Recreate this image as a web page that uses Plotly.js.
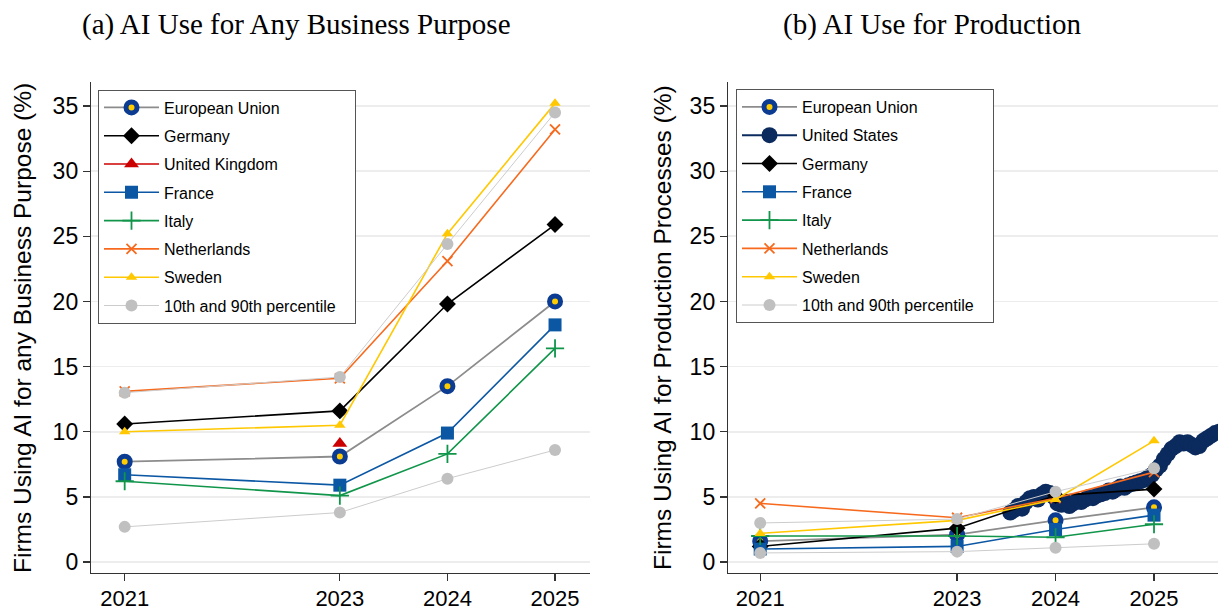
<!DOCTYPE html>
<html><head><meta charset="utf-8">
<script src="https://cdn.plot.ly/plotly-3.0.1.min.js"></script>
<style>html,body{margin:0;padding:0;background:#fff}</style>
</head><body><div id="chart" style="width:1218px;height:612px"></div>
<script>
// ---------- data ----------
const years = [2021, 2023, 2024, 2025];
const tickVals = [2021, 2023, 2024, 2025];
const tickText = ['2021', '2023', '2024', '2025'];
const yTickVals = [0, 5, 10, 15, 20, 25, 30, 35];

// Panel (a): AI use for any business purpose (%)
const euA  = [7.7, 8.1, 13.5, 20.0];
const deA  = [10.6, 11.6, 19.8, 25.9];
const ukYearA = [2023];
const ukA  = [9.1];
const frA  = [6.7, 5.9, 9.9, 18.2];
const itA  = [6.2, 5.1, 8.3, 16.4];
const nlA  = [13.1, 14.1, 23.1, 33.2];
const seA  = [10.0, 10.5, 25.2, 35.2];
const p90A = [13.0, 14.2, 24.4, 34.5];
const p10A = [2.7, 3.8, 6.4, 8.6];

// Panel (b): AI use for production (%)
const euB  = [1.6, 2.1, 3.2, 4.2];
const deB  = [1.2, 2.6, 5.1, 5.6];
const frB  = [1.0, 1.2, 2.5, 3.6];
const itB  = [2.0, 2.0, 1.9, 2.9];
const nlB  = [4.5, 3.4, 4.9, 6.9];
const seB  = [2.2, 3.2, 4.8, 9.3];
const p90B = [3.0, 3.3, 5.4, 7.2];
const p10B = [0.7, 0.8, 1.1, 1.4];

// United States (biweekly survey)
const usX = [2023.54, 2023.58, 2023.62, 2023.66, 2023.70, 2023.74, 2023.78, 2023.82, 2023.86, 2023.90,
             2023.94, 2023.98, 2024.02, 2024.06, 2024.10, 2024.14, 2024.18, 2024.22, 2024.26, 2024.30,
             2024.34, 2024.38, 2024.42, 2024.46, 2024.50, 2024.54, 2024.58, 2024.62, 2024.66, 2024.70,
             2024.74, 2024.78, 2024.82, 2024.86, 2024.90, 2024.94, 2024.98, 2025.02, 2025.06, 2025.10,
             2025.14, 2025.18, 2025.22, 2025.26, 2025.30, 2025.34, 2025.38, 2025.42, 2025.46, 2025.50,
             2025.54, 2025.58, 2025.62, 2025.66];
const usY = [3.8, 4.0, 4.3, 4.1, 4.6, 4.9, 5.0, 4.8, 5.2, 5.4,
             5.3, 5.0, 4.5, 4.4, 4.6, 4.3, 4.5, 4.7, 4.6, 4.8,
             5.0, 4.9, 5.1, 5.2, 5.3, 5.5, 5.4, 5.6, 5.8, 5.7,
             5.9, 6.0, 6.1, 6.2, 6.3, 6.5, 6.7, 7.1, 7.4, 7.9,
             8.3, 8.7, 8.9, 9.2, 9.1, 9.2, 9.0, 8.8, 8.9, 9.3,
             9.5, 9.7, 9.9, 10.0];

// ---------- styles ----------
const C = {
  euRing: '#0b3c92', euFill: '#ffcc00', euLine: '#8c8c8c',
  de: '#000000', uk: '#cc0000', fr: '#0b57a4', it: '#10954a',
  nl: '#f76a1e', se: '#ffc800', pct: '#c0c0c0', pctLine: '#cccccc', us: '#0b2a5e'
};
const FONT = 'Liberation Sans, Arial, sans-serif';
const PCT_NAME = '10th and 90th percentile\u00a0\u00a0\u00a0';

function mk(name, x, y, xa, ya, leg, rank, opts) {
  return Object.assign({
    type: 'scatter', mode: 'lines+markers', name: name, x: x, y: y,
    xaxis: xa, yaxis: ya, legend: leg, legendgroup: leg + name, legendrank: rank
  }, opts);
}
const euStyle = {line: {color: C.euLine, width: 1.8}, marker: {symbol: 'circle', size: 11, color: C.euFill, line: {color: C.euRing, width: 5}}};
const deStyle = {line: {color: C.de, width: 1.6}, marker: {symbol: 'diamond', size: 13, color: C.de}};
const ukStyle = {line: {color: C.uk, width: 1.6}, marker: {symbol: 'triangle-up', size: 13, color: C.uk}};
const frStyle = {line: {color: C.fr, width: 1.6}, marker: {symbol: 'square', size: 13, color: C.fr}};
const itStyle = {line: {color: C.it, width: 1.6}, marker: {symbol: 'cross-thin-open', size: 13, color: C.it, line: {color: C.it, width: 1.8}}};
const nlStyle = {line: {color: C.nl, width: 1.6}, marker: {symbol: 'x-thin-open', size: 10, color: C.nl, line: {color: C.nl, width: 1.8}}};
const seStyle = {line: {color: C.se, width: 1.6}, marker: {symbol: 'triangle-up', size: 10, color: C.se}};
const pctStyle = {line: {color: C.pctLine, width: 1}, marker: {symbol: 'circle', size: 12, color: C.pct}};
const usStyle = {line: {color: C.us, width: 2}, marker: {symbol: 'circle', size: 16, color: C.us}};

const data = [
  // panel a
  mk('European Union', years, euA, 'x', 'y', 'legend', 1, euStyle),
  mk('Germany', years, deA, 'x', 'y', 'legend', 2, deStyle),
  mk('United Kingdom', ukYearA, ukA, 'x', 'y', 'legend', 3, ukStyle),
  mk('France', years, frA, 'x', 'y', 'legend', 4, frStyle),
  mk('Italy', years, itA, 'x', 'y', 'legend', 5, itStyle),
  mk('Netherlands', years, nlA, 'x', 'y', 'legend', 6, nlStyle),
  mk('Sweden', years, seA, 'x', 'y', 'legend', 7, seStyle),
  mk(PCT_NAME, years, p90A, 'x', 'y', 'legend', 8, pctStyle),
  mk(PCT_NAME, years, p10A, 'x', 'y', 'legend', 8, Object.assign({showlegend: false}, pctStyle)),
  // panel b
  mk('United States', usX, usY, 'x2', 'y2', 'legend2', 2, usStyle),
  mk('European Union', years, euB, 'x2', 'y2', 'legend2', 1, euStyle),
  mk('Germany', years, deB, 'x2', 'y2', 'legend2', 3, deStyle),
  mk('France', years, frB, 'x2', 'y2', 'legend2', 4, frStyle),
  mk('Italy', years, itB, 'x2', 'y2', 'legend2', 5, itStyle),
  mk('Netherlands', years, nlB, 'x2', 'y2', 'legend2', 6, nlStyle),
  mk('Sweden', years, seB, 'x2', 'y2', 'legend2', 7, seStyle),
  mk(PCT_NAME, years, p90B, 'x2', 'y2', 'legend2', 8, pctStyle),
  mk(PCT_NAME, years, p10B, 'x2', 'y2', 'legend2', 8, Object.assign({showlegend: false}, pctStyle))
];

const W = 1218, H = 612;
const yDom = [(H - 573) / H, (H - 82) / H];
function xAx(domain, range) {
  return {
    domain: domain, range: range, tickmode: 'array', tickvals: tickVals, ticktext: tickText,
    showgrid: false, zeroline: false, showline: true, linecolor: '#333', linewidth: 1.2,
    ticks: 'outside', ticklen: 7, tickwidth: 1.2, tickcolor: '#333', ticklabelstandoff: -2,
    tickfont: {family: FONT, size: 22, color: '#000'}, fixedrange: true
  };
}
function yAx(anchor) {
  return {
    domain: yDom, range: [-0.84, 36.84], anchor: anchor, tickmode: 'array', tickvals: yTickVals,
    showgrid: true, gridcolor: '#ededed', gridwidth: 1.6, zeroline: false,
    showline: true, linecolor: '#333', linewidth: 1.2,
    ticks: 'outside', ticklen: 7, tickwidth: 1.2, tickcolor: '#333',
    tickfont: {family: FONT, size: 23, color: '#000'}, fixedrange: true
  };
}
function legendObj(xpx, ypx) {
  return {
    x: xpx / W, y: (H - ypx) / H, xanchor: 'left', yanchor: 'top',
    bgcolor: '#ffffff', bordercolor: '#555', borderwidth: 1,
    font: {family: FONT, size: 16, color: '#000'},
    tracegroupgap: 4.5, itemwidth: 55, traceorder: 'grouped'
  };
}

const layout = {
  width: W, height: H, margin: {l: 0, r: 0, t: 0, b: 0, pad: 0},
  paper_bgcolor: '#fff', plot_bgcolor: '#fff', showlegend: true,
  xaxis: Object.assign(xAx([91 / W, 590 / W], [2020.687, 2025.325]), {anchor: 'y'}),
  yaxis: yAx('x'),
  xaxis2: Object.assign(xAx([728 / W, 1], [2020.673, 2025.65]), {anchor: 'y2'}),
  yaxis2: yAx('x2'),
  legend: legendObj(98, 89.5),
  legend2: legendObj(736, 89),
  annotations: [
    {text: '(a) AI Use for Any Business Purpose', xref: 'paper', yref: 'paper', x: 296 / W, y: (H - 25) / H,
     xanchor: 'center', yanchor: 'middle', showarrow: false, font: {family: 'Liberation Serif, Times New Roman, serif', size: 29, color: '#000'}},
    {text: '(b) AI Use for Production', xref: 'paper', yref: 'paper', x: 932 / W, y: (H - 25) / H,
     xanchor: 'center', yanchor: 'middle', showarrow: false, font: {family: 'Liberation Serif, Times New Roman, serif', size: 29, color: '#000'}},
    {text: 'Firms Using AI for any Business Purpose (%)', xref: 'paper', yref: 'paper', x: 22 / W, y: (H - 328) / H,
     xanchor: 'center', yanchor: 'middle', textangle: -90, showarrow: false, font: {family: FONT, size: 24.5, color: '#000'}},
    {text: 'Firms Using AI for Production Processes (%)', xref: 'paper', yref: 'paper', x: 662 / W, y: (H - 328) / H,
     xanchor: 'center', yanchor: 'middle', textangle: -90, showarrow: false, font: {family: FONT, size: 24.5, color: '#000'}}
  ]
};

Plotly.newPlot('chart', data, layout, {displayModeBar: false, staticPlot: true});
</script>
</body></html>
